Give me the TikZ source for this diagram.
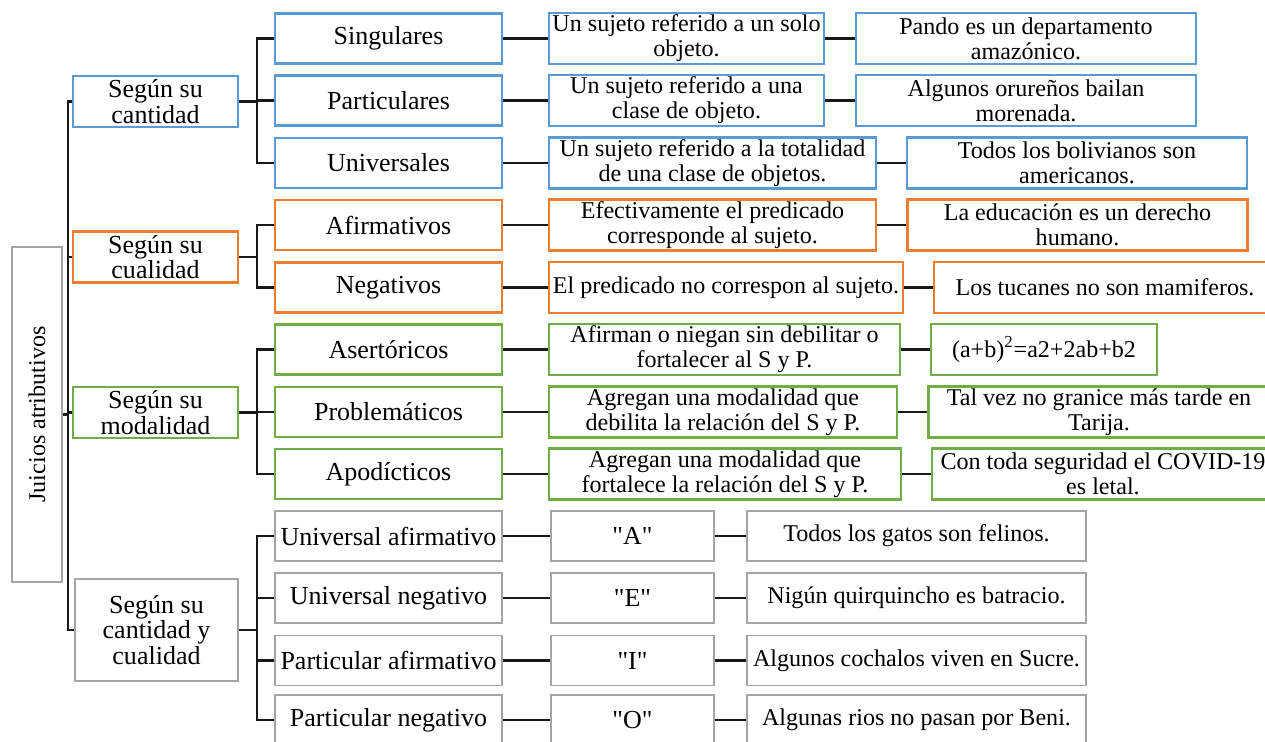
\documentclass[tikz,border=0pt]{standalone}
\usepackage{fontspec}
\setmainfont{Liberation Serif}
\definecolor{cantblue}{HTML}{5B9BD5}
\definecolor{cualorange}{HTML}{ED7D31}
\definecolor{modgreen}{HTML}{70AD47}
\definecolor{boxgray}{HTML}{A5A5A5}
\newcommand{\dq}{\XeTeXglyph\XeTeXcharglyph"22 }
\begin{document}
\begin{tikzpicture}[every node/.style={align=center, inner sep=0pt, text=black},
  big/.style={font=\fontsize{14.8}{14.6}\selectfont},
  small/.style={font=\fontsize{13.7}{14.2}\selectfont},
  blue box/.style={draw=cantblue, line width=1.3pt},
  orange box/.style={draw=cualorange, line width=1.3pt},
  green box/.style={draw=modgreen, line width=1.3pt},
  gray box/.style={draw=boxgray, line width=0.8pt},
  lvl1/.style={big, minimum width=3.3cm, minimum height=1.02cm},
  cat/.style={big, minimum width=4.54cm, minimum height=1cm},
  leaf/.style={small, minimum height=1.02cm},
  conn/.style={line width=1.4pt, black!90}]
  \clip (0,0) rectangle (25.3,-14.84);

  \node[gray box, small, rotate=90, minimum width=6.7cm, minimum height=1cm] (juicios) at (0.74,-8.29)
    {Juicios atributivos};
  \coordinate (trunk) at (1.36,0);
  \coordinate (fork) at (5.14,0);

  \node[blue box, lvl1] (cantidad) at (3.11,-2.03) {Según su\\ cantidad};
  \node[orange box, lvl1] (cualidad) at (3.11,-5.14) {Según su\\ cualidad};
  \node[green box, lvl1] (modalidad) at (3.11,-8.25) {Según su\\ modalidad};
  \node[gray box, big, minimum width=3.26cm, minimum height=2.04cm] (cantcual) at (3.13,-12.6)
    {Según su\\ cantidad y\\ cualidad};

  \node[blue box, cat] (singular) at (7.77,-0.77) {Singulares};
  \node[blue box, cat] (particular) at (7.77,-2.01) {Particulares};
  \node[blue box, cat] (universal) at (7.77,-3.26) {Universales};
  \node[orange box, cat] (afirm) at (7.77,-4.50) {Afirmativos};
  \node[orange box, cat] (negat) at (7.77,-5.75) {Negativos};
  \node[green box, cat] (asert) at (7.77,-6.99) {Asertóricos};
  \node[green box, cat] (problem) at (7.77,-8.24) {Problemáticos};
  \node[green box, cat] (apod) at (7.77,-9.48) {Apodícticos};
  \node[gray box, cat] (univafirm) at (7.77,-10.72) {Universal afirmativo};
  \node[gray box, cat] (univneg) at (7.77,-11.96) {Universal negativo};
  \node[gray box, cat] (partafirm) at (7.77,-13.21) {Particular afirmativo};
  \node[gray box, cat] (partneg) at (7.77,-14.40) {Particular negativo};

  \node[blue box, leaf, minimum width=5.5cm] (singdef) at (13.73,-0.77)
    {Un sujeto referido a un solo\\ objeto.};
  \node[blue box, leaf, minimum width=5.5cm] (partdef) at (13.73,-2.01)
    {Un sujeto referido a una\\ clase de objeto.};
  \node[blue box, leaf, minimum width=6.54cm] (univdef) at (14.25,-3.26)
    {Un sujeto referido a la totalidad\\ de una clase de objetos.};
  \node[orange box, leaf, minimum width=6.54cm] (afirmdef) at (14.25,-4.50)
    {Efectivamente el predicado\\ corresponde al sujeto.};
  \node[orange box, leaf, minimum width=7.08cm] (negatdef) at (14.52,-5.75)
    {El predicado no correspon al sujeto.};
  \node[green box, leaf, minimum width=7.02cm] (asertdef) at (14.49,-6.99)
    {Afirman o niegan sin debilitar o\\ fortalecer al S y P.};
  \node[green box, leaf, minimum width=6.96cm] (problemdef) at (14.46,-8.24)
    {Agregan una modalidad que\\ debilita la relación del S y P.};
  \node[green box, leaf, minimum width=7.04cm] (apoddef) at (14.50,-9.48)
    {Agregan una modalidad que\\ fortalece la relación del S y P.};
  \node[gray box, big, minimum width=3.26cm, minimum height=1cm] (letA) at (12.65,-10.72) {\dq A\dq};
  \node[gray box, big, minimum width=3.26cm, minimum height=1cm] (letE) at (12.65,-11.96) {\dq E\dq};
  \node[gray box, big, minimum width=3.26cm, minimum height=1cm] (letI) at (12.65,-13.21) {\dq I\dq};
  \node[gray box, big, minimum width=3.26cm, minimum height=1cm] (letO) at (12.65,-14.40) {\dq O\dq};

  \node[blue box, leaf, minimum width=6.8cm] (singex) at (20.52,-0.77)
    {Pando es un departamento\\ amazónico.};
  \node[blue box, leaf, minimum width=6.8cm] (partex) at (20.52,-2.01)
    {Algunos orureños bailan\\ morenada.};
  \node[blue box, leaf, minimum width=6.8cm] (univex) at (21.54,-3.26)
    {Todos los bolivianos son\\ americanos.};
  \node[orange box, leaf, minimum width=6.8cm] (afirmex) at (21.55,-4.50)
    {La educación es un derecho\\ humano.};
  \node[orange box, leaf, minimum width=6.84cm] (negatex) at (22.10,-5.75)
    {Los tucanes no son mamiferos.};
  \node[green box, leaf, minimum width=4.52cm] (asertex) at (20.88,-6.99)
    {(a+b)\textsuperscript{2}=a2+2ab+b2};
  \node[green box, leaf, minimum width=6.82cm] (problemex) at (21.98,-8.24)
    {Tal vez no granice más tarde en\\ Tarija.};
  \node[green box, leaf, minimum width=6.84cm] (apodex) at (22.06,-9.48)
    {Con toda seguridad el COVID-19\\ es letal.};
  \node[gray box, leaf, minimum width=6.78cm, minimum height=1cm] (exA) at (18.33,-10.72)
    {Todos los gatos son felinos.};
  \node[gray box, leaf, minimum width=6.78cm, minimum height=1cm] (exE) at (18.33,-11.96)
    {Nigún quirquincho es batracio.};
  \node[gray box, leaf, minimum width=6.78cm, minimum height=1cm] (exI) at (18.33,-13.21)
    {Algunos cochalos viven en Sucre.};
  \node[gray box, leaf, minimum width=6.78cm, minimum height=1cm] (exO) at (18.33,-14.40)
    {Algunas rios no pasan por Beni.};

  % trunk
  \draw[conn] (juicios) -- (juicios -| trunk);
  \draw[conn] (cantidad.west) -| (trunk |- cantcual.west) -- (cantcual.west);
  \draw[conn] (cualidad.west) -- (cualidad.west -| trunk);
  \draw[conn] (modalidad.west) -- (modalidad.west -| trunk);

  % forks
  \draw[conn] (cantidad.east) -- (cantidad.east -| fork) |- (singular.west);
  \draw[conn] (cantidad.east) -- (cantidad.east -| fork) |- (particular.west);
  \draw[conn] (cantidad.east) -- (cantidad.east -| fork) |- (universal.west);
  \draw[conn] (cualidad.east) -- (cualidad.east -| fork) |- (afirm.west);
  \draw[conn] (cualidad.east) -- (cualidad.east -| fork) |- (negat.west);
  \draw[conn] (modalidad.east) -- (modalidad.east -| fork) |- (asert.west);
  \draw[conn] (modalidad.east) -- (modalidad.east -| fork) |- (problem.west);
  \draw[conn] (modalidad.east) -- (modalidad.east -| fork) |- (apod.west);
  \draw[conn] (cantcual.east) -- (cantcual.east -| fork) |- (univafirm.west);
  \draw[conn] (cantcual.east) -- (cantcual.east -| fork) |- (univneg.west);
  \draw[conn] (cantcual.east) -- (cantcual.east -| fork) |- (partafirm.west);
  \draw[conn] (cantcual.east) -- (cantcual.east -| fork) |- (partneg.west);

  % rows
  \draw[conn] (singular) -- (singdef);
  \draw[conn] (particular) -- (partdef);
  \draw[conn] (universal) -- (univdef);
  \draw[conn] (afirm) -- (afirmdef);
  \draw[conn] (negat) -- (negatdef);
  \draw[conn] (asert) -- (asertdef);
  \draw[conn] (problem) -- (problemdef);
  \draw[conn] (apod) -- (apoddef);
  \draw[conn] (univafirm) -- (letA);
  \draw[conn] (univneg) -- (letE);
  \draw[conn] (partafirm) -- (letI);
  \draw[conn] (partneg) -- (letO);

  \draw[conn] (singdef) -- (singex);
  \draw[conn] (partdef) -- (partex);
  \draw[conn] (univdef) -- (univex);
  \draw[conn] (afirmdef) -- (afirmex);
  \draw[conn] (negatdef) -- (negatex);
  \draw[conn] (asertdef) -- (asertex);
  \draw[conn] (problemdef) -- (problemex);
  \draw[conn] (apoddef) -- (apodex);
  \draw[conn] (letA) -- (exA);
  \draw[conn] (letE) -- (exE);
  \draw[conn] (letI) -- (exI);
  \draw[conn] (letO) -- (exO);
\end{tikzpicture}
\end{document}
